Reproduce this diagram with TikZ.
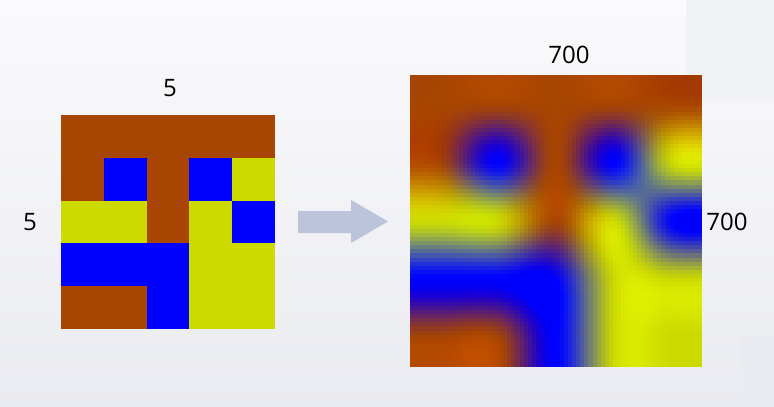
\documentclass[tikz,border=0pt]{standalone}
\usepackage{fontspec}
\setmainfont{Open Sans}
\usepackage{tikz}

\definecolor{bgtop}{RGB}{250,250,252}
\definecolor{bgbot}{RGB}{234,235,240}
\definecolor{bgpatch}{RGB}{240,242,245}
\definecolor{arrowc}{RGB}{188,195,218}

% cell colours (brown, blue, yellow) as rgb in 0..1
\def\Rb{0.659}\def\Gb{0.271}\def\Bb{0.008}
\def\Ru{0.0}\def\Gu{0.0}\def\Bu{1.0}
\def\Ry{0.8}\def\Gy{0.855}\def\By{0.0}
\definecolor{cb}{rgb}{\Rb,\Gb,\Bb}
\definecolor{cu}{rgb}{\Ru,\Gu,\Bu}
\definecolor{cy}{rgb}{\Ry,\Gy,\By}

\def\nfine{72}
\newcommand\gv[1]{\csname#1\endcsname}

\begin{document}
\begin{tikzpicture}[x=1pt,y=-1pt,font=\fontsize{24}{28}\selectfont]
\useasboundingbox (0,0) rectangle (774,407);
\shade[top color=bgtop,bottom color=bgbot] (0,0) rectangle (774,407);
\fill[bgpatch] (686,0) rectangle (774,100);
\fill[bgbot] (740,337) rectangle (774,407);

% 5x5 picture
\foreach \row [count=\rr from 0] in {{b,b,b,b,b},{b,u,b,u,y},{y,y,b,y,u},{u,u,u,y,y},{b,b,u,y,y}}{
  \foreach \cell [count=\cc from 0] in \row {
    \fill[c\cell] (61+\cc*42.8,115+\rr*42.8) rectangle ++(42.8,42.8);
    \expandafter\xdef\csname cR\rr-\cc\endcsname{\gv{R\cell}}
    \expandafter\xdef\csname cG\rr-\cc\endcsname{\gv{G\cell}}
    \expandafter\xdef\csname cB\rr-\cc\endcsname{\gv{B\cell}}
  }
}

% bicubic weights for the 700x700 version
\pgfmathtruncatemacro\nlast{\nfine-1}
\pgfmathsetmacro\side{292/\nfine}
\foreach \i in {0,...,\nlast}{
  \pgfmathsetmacro\uu{(\i+0.5)*5/\nfine-0.5}
  \pgfmathtruncatemacro\kk{floor(\uu)}
  \pgfmathsetmacro\tq{\uu-(\kk)}
  \pgfmathsetmacro\wa{((2-\tq)*\tq-1)*\tq/2}
  \pgfmathsetmacro\wb{((3*\tq-5)*\tq*\tq+2)/2}
  \pgfmathsetmacro\wc{((4-3*\tq)*\tq+1)*\tq/2}
  \pgfmathsetmacro\wd{(\tq-1)*\tq*\tq/2}
  \foreach \j/\w in {0/\wa,1/\wb,2/\wc,3/\wd}{
    \pgfmathtruncatemacro\kj{max(0,min(4,\kk-1+\j))}
    \expandafter\xdef\csname w\j-\i\endcsname{\w}
    \expandafter\xdef\csname k\j-\i\endcsname{\kj}
  }
}
\foreach \rr in {0,...,4}{
  \foreach \i in {0,...,\nlast}{
    \foreach \ch in {R,G,B}{
      \edef\expr{(\gv{w0-\i})*\gv{c\ch\rr-\gv{k0-\i}}+(\gv{w1-\i})*\gv{c\ch\rr-\gv{k1-\i}}+(\gv{w2-\i})*\gv{c\ch\rr-\gv{k2-\i}}+(\gv{w3-\i})*\gv{c\ch\rr-\gv{k3-\i}}}
      \pgfmathsetmacro\val{\expr}
      \expandafter\xdef\csname h\ch\rr-\i\endcsname{\val}
    }
  }
}
\begin{scope}
\clip (410,75) rectangle (702,367);
\foreach \m in {0,...,\nlast}{
  \foreach \i in {0,...,\nlast}{
    \foreach \ch in {R,G,B}{
      \edef\expr{(\gv{w0-\m})*\gv{h\ch\gv{k0-\m}-\i}+(\gv{w1-\m})*\gv{h\ch\gv{k1-\m}-\i}+(\gv{w2-\m})*\gv{h\ch\gv{k2-\m}-\i}+(\gv{w3-\m})*\gv{h\ch\gv{k3-\m}-\i}}
      \pgfmathtruncatemacro\val{max(0,min(255,255*(\expr)))}
      \expandafter\xdef\csname f\ch\endcsname{\val}
    }
    \definecolor{fc}{RGB}{\fR,\fG,\fB}
    \fill[fc] (410+\i*\side,75+\m*\side) rectangle ++(\side+0.4,\side+0.4);
  }
}
\end{scope}

\fill[arrowc] (298,211) -- (351,211) -- (351,200) -- (388,221.5) -- (351,243) -- (351,233) -- (298,233) -- cycle;

\node (smalltop) at (170,88) {5};
\node (smallleft) at (30,222) {5};
\node (bigtop) at (569,55) {700};
\node (bigright) at (727,222) {700};
\end{tikzpicture}
\end{document}
